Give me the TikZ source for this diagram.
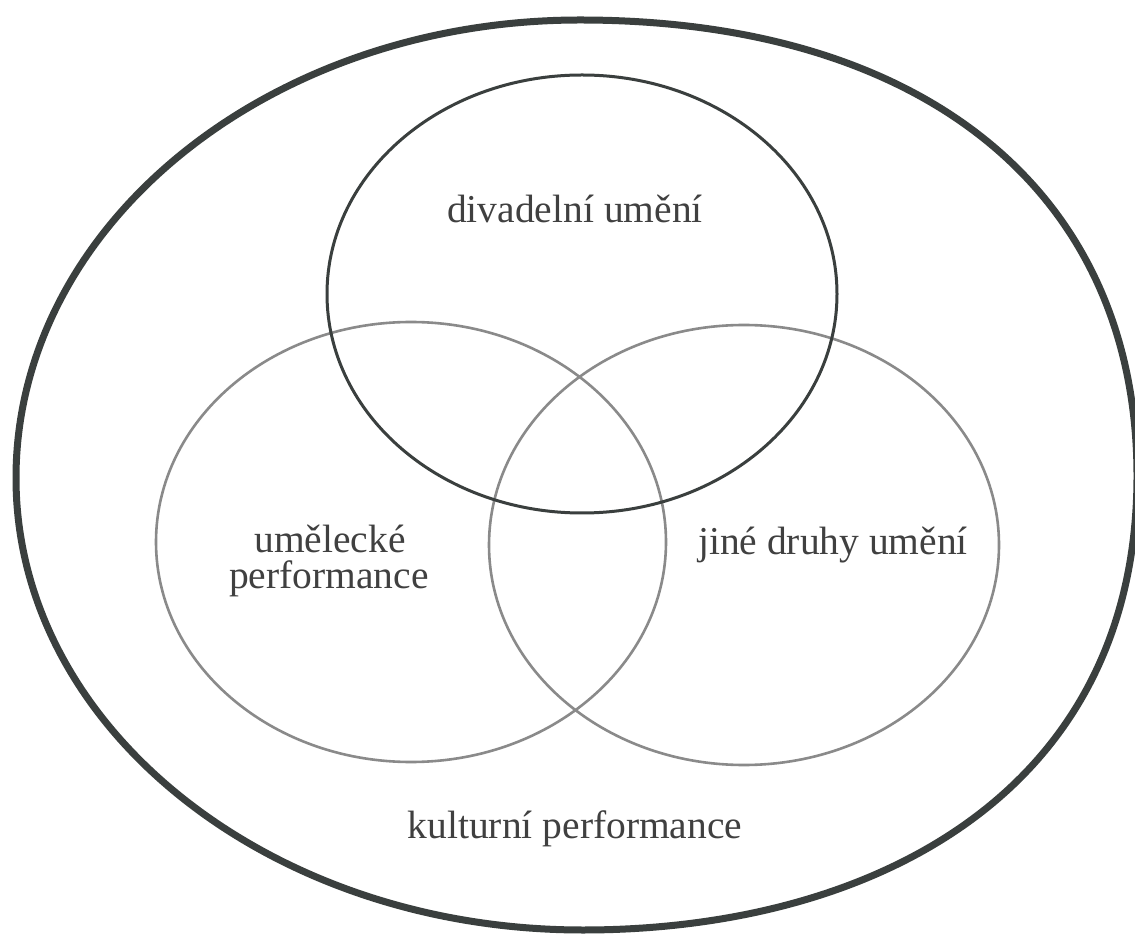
\documentclass[tikz,border=0pt]{standalone}
\usepackage{fontspec}
\setmainfont{Liberation Serif}
\definecolor{darkline}{HTML}{3A3F3E}
\definecolor{lightline}{HTML}{8A8A8A}
\definecolor{txt}{HTML}{404040}
\begin{document}
\begin{tikzpicture}[x=1pt,y=1pt,
  outerring/.style={draw=darkline,line width=7pt,line join=round},
  topring/.style={draw=darkline,line width=3pt},
  sidering/.style={draw=lightline,line width=2.6pt},
  lbl/.style={text=txt,font=\fontsize{39.5}{38}\selectfont,inner sep=0pt,anchor=base}]
\useasboundingbox[fill=white] (0,0) rectangle (1135,938);
\coordinate (oT) at (580,918);
\coordinate (oR) at (1137,462);
\coordinate (oB) at (583,8);
\coordinate (oL) at (16,460);
\draw[outerring] (oT) .. controls (925,918) and (1137,745) .. (oR)
  .. controls (1137,144) and (871,8) .. (oB)
  .. controls (270,8) and (16,210) .. (oL)
  .. controls (16,713) and (269,918) .. (oT) -- cycle;
\draw[sidering] (411,396) ellipse [x radius=255, y radius=220];
\draw[sidering] (744,393) ellipse [x radius=255, y radius=220];
\draw[topring] (582,644) ellipse [x radius=255, y radius=219];
\node[lbl] (divadelni) at (575,715) {divadelní umění};
\node[lbl] (umelecke) at (330,385) {umělecké};
\node[lbl] (performance) at (329,349) {performance};
\node[lbl] (jine) at (833,383) {jiné druhy umění};
\node[lbl] (kulturni) at (575,100) {kulturní performance};
\end{tikzpicture}
\end{document}
